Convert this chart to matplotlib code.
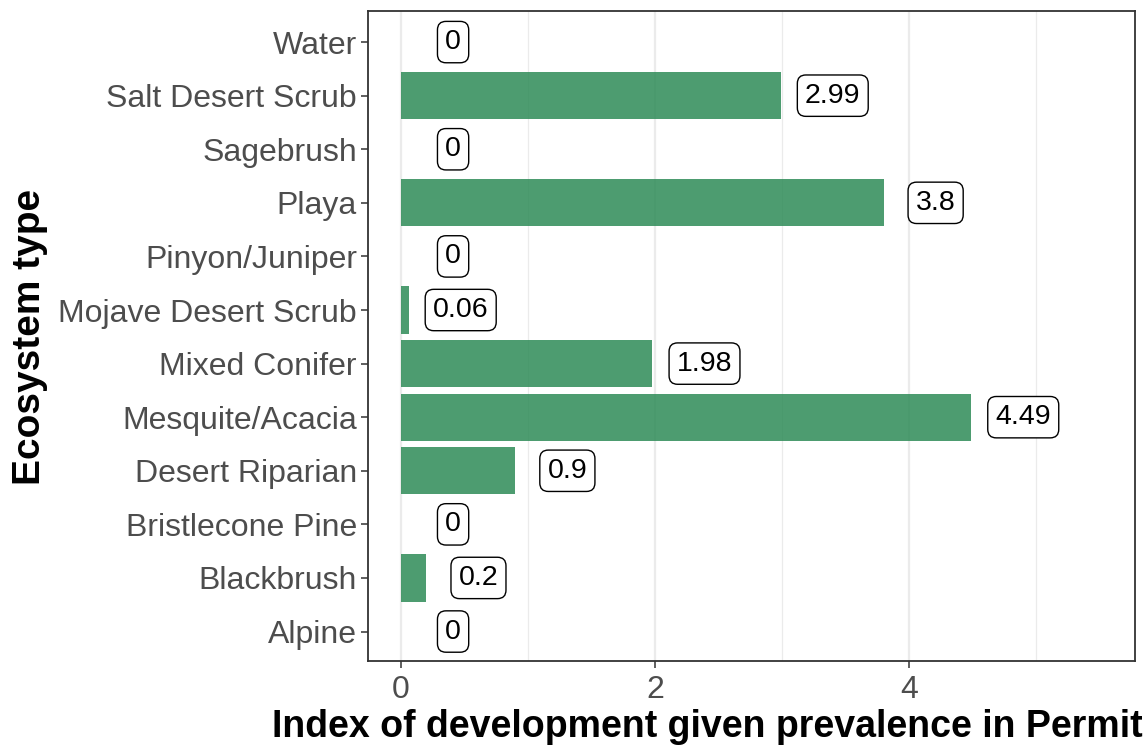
import matplotlib
matplotlib.use("Agg")
import matplotlib.pyplot as plt
from matplotlib.ticker import MultipleLocator

plt.rcParams['font.family'] = ['Liberation Sans', 'DejaVu Sans']

categories = ["Alpine", "Blackbrush", "Bristlecone Pine", "Desert Riparian",
              "Mesquite/Acacia", "Mixed Conifer", "Mojave Desert Scrub",
              "Pinyon/Juniper", "Playa", "Sagebrush", "Salt Desert Scrub", "Water"]
values = [0, 0.2, 0, 0.9, 4.49, 1.98, 0.06, 0, 3.8, 0, 2.99, 0]
labels = ["0", "0.2", "0", "0.9", "4.49", "1.98", "0.06", "0", "3.8", "0", "2.99", "0"]
x_ticks = [0, 2, 4]

W, H = 1146, 747
fig = plt.figure(figsize=(W / 100, H / 100), dpi=100)
ax = fig.add_axes([368 / W, 1 - 661 / H, (1135 - 368) / W, (661 - 11) / H])

ypos = list(range(len(categories)))
ax.barh(ypos, values, height=0.88, color='#2E8B57', alpha=0.85, zorder=3)

for y, v, lab in zip(ypos, values, labels):
    ax.text(v + 0.41, y, lab, ha='center', va='center', fontsize=20.5, color='black',
            zorder=5,
            bbox=dict(boxstyle='round,pad=0.27,rounding_size=0.3', fc='white',
                      ec='black', lw=1.0))

ax.set_xlim(-0.26, 5.78)
ax.set_ylim(-0.55, 11.58)
ax.set_yticks(ypos)
ax.set_yticklabels(categories)
ax.set_xticks(x_ticks)
ax.xaxis.set_minor_locator(MultipleLocator(1))
ax.grid(axis='x', which='major', color='#EBEBEB', lw=1.6, zorder=0)
ax.grid(axis='x', which='minor', color='#EBEBEB', lw=0.9, zorder=0)
ax.tick_params(axis='x', which='minor', length=0)
ax.tick_params(axis='both', which='major', length=5, width=1.1, color='#333333',
               labelcolor='#4D4D4D', labelsize=23, pad=3)
ax.tick_params(axis='x', which='major', pad=5)
for s in ax.spines.values():
    s.set_color('#333333')
    s.set_linewidth(1.3)

fig.text(272 / W, 1 - 727 / H, "Index of development given prevalence in Permit",
         ha='left', va='center', fontsize=27, fontweight='bold', color='black')
fig.text(30 / W, 1 - 337 / H, "Ecosystem type", rotation=90,
         ha='center', va='center', fontsize=28, fontweight='bold', color='black')

fig.savefig("out.png", dpi=100)
